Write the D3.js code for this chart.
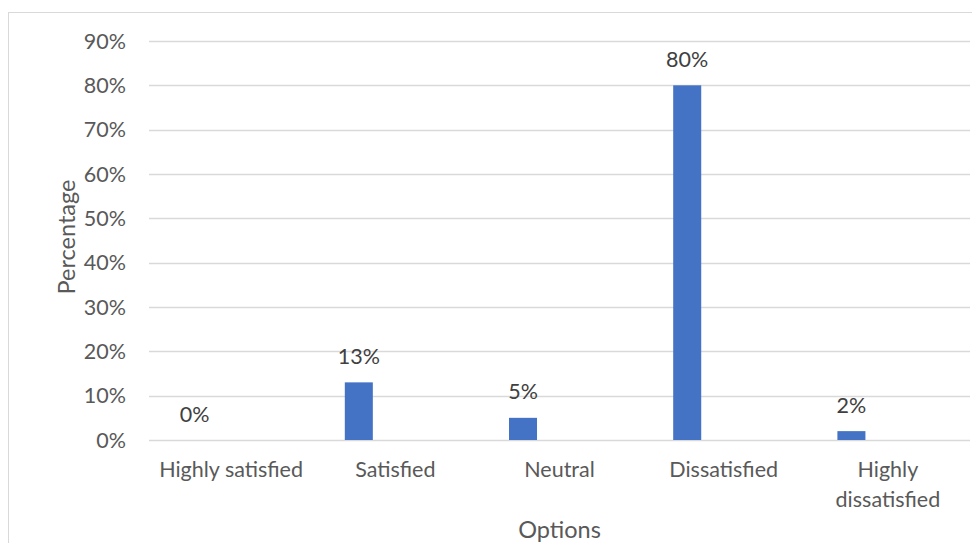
<!DOCTYPE html>
<html>
<head>
<meta charset="utf-8">
<script src="https://cdn.jsdelivr.net/npm/d3@7"></script>
<style>
  html, body { margin: 0; padding: 0; background: #fff; }
  svg { display: block; }
  text { font-family: Lato, "Open Sans", sans-serif; }
</style>
</head>
<body>
<svg id="chart" width="972" height="543"></svg>
<script>
const categories = ["Highly satisfied", "Satisfied", "Neutral", "Dissatisfied", "Highly dissatisfied"];
const values = [0, 13, 5, 80, 2];
const yTicks = [0, 10, 20, 30, 40, 50, 60, 70, 80, 90];
const xTitle = "Options";
const yTitle = "Percentage";

const svg = d3.select("#chart");
const W = 972, H = 543;
const m = { left: 149, right: 2, top: 41, bottom: 103 };

// chart border
svg.append("rect")
  .attr("x", 8.5).attr("y", 12.5)
  .attr("width", W + 10).attr("height", H + 10)
  .attr("fill", "none").attr("stroke", "#d9d9d9").attr("stroke-width", 1);

const x = d3.scaleBand().domain(categories).range([m.left, W - m.right]).padding(0);
const y = d3.scaleLinear().domain([0, 90]).range([H - m.bottom, m.top]);

// gridlines
svg.append("g").selectAll("line").data(yTicks).join("line")
  .attr("x1", m.left).attr("x2", W - m.right)
  .attr("y1", d => Math.round(y(d)) + 0.5).attr("y2", d => Math.round(y(d)) + 0.5)
  .attr("stroke", "#d9d9d9").attr("stroke-width", 1.5);

// y axis labels
const yAxis = d3.axisLeft(y).tickValues(yTicks).tickFormat(d => d + "%").tickSize(0).tickPadding(0);
const gy = svg.append("g").attr("transform", `translate(126,0)`).call(yAxis);
gy.select(".domain").remove();
gy.selectAll("text").attr("fill", "#595959").style("font-size", "21.5px")
  .style("font-family", "Lato, 'Open Sans', sans-serif").attr("dy", "0.34em");

// bars: first slot in each band (second slot empty, as in a 2-series clustered chart)
const inner = d3.scaleBand().domain(["s1", "s2"]).range([0, x.bandwidth()]).paddingInner(0.616).paddingOuter(0.433);
const bw = inner.bandwidth();
svg.append("g").selectAll("rect").data(values).join("rect")
  .attr("x", (d, i) => x(categories[i]) + inner("s1"))
  .attr("width", bw)
  .attr("y", d => y(d))
  .attr("height", d => y(0) - y(d))
  .attr("fill", "#4472C4");

// data labels
svg.append("g").selectAll("text").data(values).join("text")
  .attr("x", (d, i) => x(categories[i]) + inner("s1") + bw / 2)
  .attr("y", d => y(d) - 18.5)
  .attr("text-anchor", "middle")
  .attr("fill", "#404040").style("font-size", "21.5px")
  .text(d => d + "%");

// category labels (wrapped)
const wrapLines = { "Highly dissatisfied": ["Highly", "dissatisfied"] };
const gx = svg.append("g");
categories.forEach(c => {
  const lines = wrapLines[c] || [c];
  const t = gx.append("text")
    .attr("x", x(c) + x.bandwidth() / 2)
    .attr("y", 477)
    .attr("text-anchor", "middle")
    .attr("fill", "#595959").style("font-size", "21.5px");
  lines.forEach((ln, k) => {
    t.append("tspan").attr("x", x(c) + x.bandwidth() / 2).attr("dy", k === 0 ? 0 : 29.5).text(ln);
  });
});

// axis titles
svg.append("text")
  .attr("x", (m.left + W - m.right) / 2).attr("y", 538)
  .attr("text-anchor", "middle").attr("fill", "#595959").style("font-size", "23.5px")
  .text(xTitle);

svg.append("text")
  .attr("transform", `translate(75,237) rotate(-90)`)
  .attr("text-anchor", "middle").attr("fill", "#595959").style("font-size", "23.5px")
  .text(yTitle);
</script>
</body>
</html>
